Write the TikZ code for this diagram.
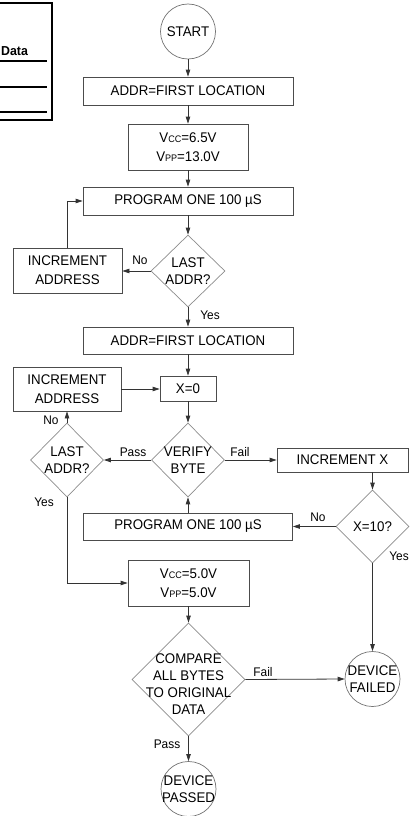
\documentclass[tikz,border=0pt]{standalone}
\usepackage{fontspec}
\setmainfont[FakeStretch=0.95]{Liberation Sans}
\usetikzlibrary{arrows.meta,shapes.geometric,calc}
\newcommand\lowcaps[1]{{\fontsize{9.5}{9.5}\selectfont #1}}
\begin{document}
\begin{tikzpicture}[x=1pt,y=-1pt,
  every node/.style={font=\fontsize{14}{19}\selectfont, text=black, align=center},
  box/.style={draw=black!70, line width=0.8pt, rectangle, inner sep=0pt},
  dia/.style={draw=black!45, line width=0.7pt, diamond, inner sep=0pt},
  term/.style={draw=black!55, line width=0.7pt, circle, inner sep=0pt, minimum size=55pt},
  ttext/.style={font=\fontsize{14}{17}\selectfont, inner sep=0pt},
  lbl/.style={font=\fontsize{12.5}{14}\selectfont, inner sep=0pt},
  arr/.style={draw=black!80, line width=0.8pt, -{Triangle[length=7pt,width=4.5pt]}},
]
\useasboundingbox (0,0) rectangle (411,816);

% fragment of a table at the top left
\draw[line width=2.2pt, black] (-5,3) -- (52,3) -- (52,120) -- (-5,120);
\draw[line width=1.6pt, black] (-5,61) -- (47,61);
\draw[line width=1.6pt, black] (-5,87) -- (47,87);
\draw[line width=1.6pt, black] (-5,112) -- (47,112);
\node[font=\bfseries\fontsize{13}{13}\selectfont, text=black, anchor=base west, inner sep=0pt] (datah) at (1,56) {Data};

% nodes
\node[term] (start) at (188,31.5) {};
\node[ttext] (startt) at (start) {START};
\node[box, minimum width=210pt, minimum height=28pt] (addr1) at (188,91) {ADDR=FIRST LOCATION};
\node[box, minimum width=120pt, minimum height=46pt] (vcc1) at (188,147) {V\lowcaps{CC}=6.5V\\V\lowcaps{PP}=13.0V};
\node[box, minimum width=210pt, minimum height=28pt] (prog1) at (188,201) {PROGRAM ONE 100 µS};
\node[dia, minimum width=74pt, minimum height=72pt] (last1) at (188,271) {};
\node[ttext] (last1t) at (last1) {LAST\\ADDR?};
\node[box, minimum width=109pt, minimum height=45pt] (inc1) at (67.5,270.5) {INCREMENT\\ADDRESS};
\node[box, minimum width=210pt, minimum height=27pt] (addr2) at (188,340.5) {ADDR=FIRST LOCATION};
\node[box, minimum width=56pt, minimum height=25pt] (x0) at (188,388.5) {X=0};
\node[box, minimum width=108pt, minimum height=44pt] (inc2) at (67,389) {INCREMENT\\ADDRESS};
\node[dia, minimum width=73pt, minimum height=74pt] (ver) at (188,460) {};
\node[ttext] (vert) at (ver) {VERIFY\\BYTE};
\node[dia, minimum width=73pt, minimum height=74pt] (last2) at (67,460) {};
\node[ttext] (last2t) at (last2) {LAST\\ADDR?};
\node[box, minimum width=131pt, minimum height=24pt] (incx) at (342.5,460) {INCREMENT X};
\node[dia, minimum width=73pt, minimum height=73pt] (x10) at (372.5,526.5) {};
\node[ttext] (x10t) at (x10) {X=10?};
\node[box, minimum width=209pt, minimum height=27pt] (prog2) at (188,526.5) {PROGRAM ONE 100 µS};
\node[box, minimum width=121pt, minimum height=46pt] (vcc5) at (188.5,583) {V\lowcaps{CC}=5.0V\\V\lowcaps{PP}=5.0V};
\node[dia, minimum width=113pt, minimum height=113pt] (cmp) at (188.5,679.5) {};
\node[ttext] (cmpt) at (188.5,684) {COMPARE\\ALL BYTES\\TO ORIGINAL\\DATA};
\node[term] (fail) at (372.5,679) {};
\node[ttext] (failt) at (fail) {DEVICE\\FAILED};
\node[term] (pass) at (188.5,789) {};
\node[ttext] (passt) at (pass) {DEVICE\\PASSED};

% connectors
\draw[arr] (start) -- (addr1);
\draw[arr] (addr1) -- (vcc1);
\draw[arr] (vcc1) -- (prog1);
\draw[arr] (prog1.south) -- (last1.north);
\draw[arr] (last1.west) -- (last1.west -| inc1.east);
\draw[arr] (inc1.north) |- (prog1.west);
\draw[arr] (last1.south) -- (addr2.north);
\draw[arr] (addr2) -- (x0);
\draw[arr] (inc2.east) -- (inc2.east -| x0.west);
\draw[arr] (x0.south) -- (ver.north);
\draw[arr] (ver.west) -- (last2.east);
\draw[arr] (last2.north) -- (inc2.south);
\draw[arr] (ver.east) -- (incx.west);
\draw[arr] (incx.south -| x10.north) -- (x10.north);
\draw[arr] (x10.west) -- (x10.west -| prog2.east);
\draw[arr] (prog2.north) -- (ver.south);
\draw[arr] (last2.south) |- (vcc5.west);
\draw[arr] (x10.south) -- (fail.north);
\draw[arr] (vcc5.south) -- (cmp.north);
\draw[arr] (cmp.east) -- (fail.west);
\draw[arr] (cmp.south) -- (pass.north);

% labels
\node[lbl] (lno1) at (140,260) {No};
\node[lbl] (lyes1) at (210,315) {Yes};
\node[lbl] (lno2) at (51,420) {No};
\node[lbl] (lpass1) at (133,452) {Pass};
\node[lbl] (lyes2) at (44,502) {Yes};
\node[lbl] (lfail1) at (240,452) {Fail};
\node[lbl] (lno3) at (318,517) {No};
\node[lbl] (lyes3) at (399,556) {Yes};
\node[lbl] (lfail2) at (263,672) {Fail};
\node[lbl] (lpass2) at (167,744) {Pass};
\end{tikzpicture}
\end{document}
